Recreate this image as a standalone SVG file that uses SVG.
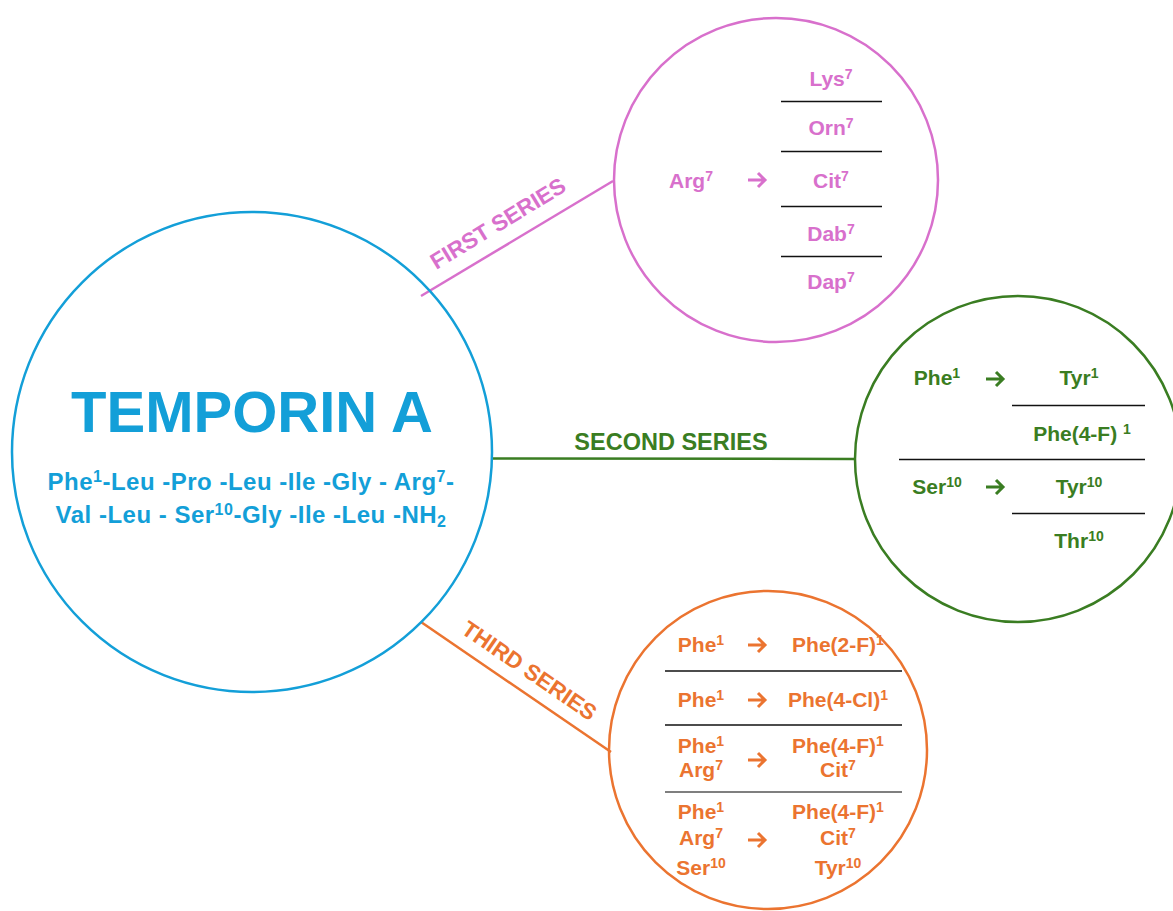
<svg xmlns="http://www.w3.org/2000/svg" width="1173" height="911" viewBox="0 0 1173 911">
<style>
text{font-family:"Liberation Sans",Arial,sans-serif;font-weight:bold;}
.b{fill:#139FD8;} .p{fill:#D870CC;} .g{fill:#3A7D22;} .o{fill:#EB7430;}
.t{font-size:21px;text-anchor:middle;}
.s{font-size:14px;}
.sep{stroke:#111;stroke-width:1.3;}
.arr{fill:none;stroke-width:3;stroke-linecap:butt;}
</style>
<rect width="1173" height="911" fill="#fff"/>
<g id="connectors">
<line x1="421" y1="296" x2="613" y2="181" stroke="#D870CC" stroke-width="2.5"/>
<line x1="493" y1="458.5" x2="856" y2="459" stroke="#3A7D22" stroke-width="2.5"/>
<line x1="421" y1="622" x2="611" y2="752" stroke="#EB7430" stroke-width="2.5"/>
<text class="p" font-size="22.5" text-anchor="middle" transform="translate(502,230) rotate(-31.3)">FIRST SERIES</text>
<text class="g" font-size="23.5" text-anchor="middle" x="671" y="450">SECOND SERIES</text>
<text class="o" font-size="22.5" text-anchor="middle" transform="translate(525,677) rotate(34.5)">THIRD SERIES</text>
</g>
<g id="temporin">
<circle cx="252" cy="452" r="240" fill="none" stroke="#139FD8" stroke-width="2.5"/>
<text class="b" x="252" y="432" font-size="58" text-anchor="middle">TEMPORIN A</text>
<text class="b" x="251" y="490" font-size="24" letter-spacing="0.5" text-anchor="middle">Phe<tspan dy="-8" font-size="16">1</tspan><tspan dy="8">-Leu -Pro -Leu -Ile -Gly - Arg</tspan><tspan dy="-8" font-size="16">7</tspan><tspan dy="8">-</tspan></text>
<text class="b" x="251" y="523" font-size="24" letter-spacing="0.5" text-anchor="middle">Val -Leu - Ser<tspan dy="-8" font-size="16">10</tspan><tspan dy="8">-Gly -Ile -Leu -NH</tspan><tspan dy="4" font-size="16">2</tspan></text>
</g>
<g id="first-series">
<circle cx="776" cy="180" r="162" fill="none" stroke="#D870CC" stroke-width="2.5"/>
<text class="p t" x="691" y="188">Arg<tspan dy="-7" class="s">7</tspan></text>
<path class="arr" stroke="#D870CC" d="M748 180H765M758 173L765 180L758 187"/>
<text class="p t" x="831" y="86">Lys<tspan dy="-7" class="s">7</tspan></text>
<text class="p t" x="831" y="135">Orn<tspan dy="-7" class="s">7</tspan></text>
<text class="p t" x="831" y="188">Cit<tspan dy="-7" class="s">7</tspan></text>
<text class="p t" x="831" y="241">Dab<tspan dy="-7" class="s">7</tspan></text>
<text class="p t" x="831" y="289">Dap<tspan dy="-7" class="s">7</tspan></text>
<line class="sep" x1="781" y1="101.5" x2="882" y2="101.5"/>
<line class="sep" x1="781" y1="151.5" x2="882" y2="151.5"/>
<line class="sep" x1="781" y1="206.5" x2="882" y2="206.5"/>
<line class="sep" x1="781" y1="256.5" x2="882" y2="256.5"/>
</g>
<g id="second-series">
<circle cx="1018" cy="459" r="163" fill="none" stroke="#3A7D22" stroke-width="2.5"/>
<text class="g t" x="937" y="385">Phe<tspan dy="-7" class="s">1</tspan></text>
<path class="arr" stroke="#3A7D22" d="M986 379H1003M996 372L1003 379L996 386"/>
<text class="g t" x="1079" y="385">Tyr<tspan dy="-7" class="s">1</tspan></text>
<line class="sep" x1="1012" y1="405.5" x2="1145" y2="405.5"/>
<text class="g t" x="1082" y="441">Phe(4-F) <tspan dy="-7" class="s">1</tspan></text>
<line class="sep" x1="899" y1="459.5" x2="1145" y2="459.5"/>
<text class="g t" x="937" y="494">Ser<tspan dy="-7" class="s">10</tspan></text>
<path class="arr" stroke="#3A7D22" d="M986 487H1003M996 480L1003 487L996 494"/>
<text class="g t" x="1079" y="494">Tyr<tspan dy="-7" class="s">10</tspan></text>
<line class="sep" x1="1012" y1="513.5" x2="1145" y2="513.5"/>
<text class="g t" x="1079" y="548">Thr<tspan dy="-7" class="s">10</tspan></text>
</g>
<g id="third-series">
<circle cx="768" cy="750" r="159" fill="none" stroke="#EB7430" stroke-width="2.5"/>
<text class="o t" x="701" y="652">Phe<tspan dy="-7" class="s">1</tspan></text>
<path class="arr" stroke="#EB7430" d="M748 645H765M758 638L765 645L758 652"/>
<text class="o t" x="838" y="652">Phe(2-F)<tspan dy="-7" class="s">1</tspan></text>
<line class="sep" x1="665" y1="671" x2="902" y2="671"/>
<text class="o t" x="701" y="707">Phe<tspan dy="-7" class="s">1</tspan></text>
<path class="arr" stroke="#EB7430" d="M748 700H765M758 693L765 700L758 707"/>
<text class="o t" x="838" y="707">Phe(4-Cl)<tspan dy="-7" class="s">1</tspan></text>
<line class="sep" x1="665" y1="725" x2="902" y2="725"/>
<text class="o t" x="701" y="753">Phe<tspan dy="-7" class="s">1</tspan></text>
<text class="o t" x="701" y="777">Arg<tspan dy="-7" class="s">7</tspan></text>
<path class="arr" stroke="#EB7430" d="M748 760H765M758 753L765 760L758 767"/>
<text class="o t" x="838" y="753">Phe(4-F)<tspan dy="-7" class="s">1</tspan></text>
<text class="o t" x="838" y="777">Cit<tspan dy="-7" class="s">7</tspan></text>
<line x1="665" y1="792" x2="902" y2="792" stroke="#555" stroke-width="1.6"/>
<text class="o t" x="701" y="819">Phe<tspan dy="-7" class="s">1</tspan></text>
<text class="o t" x="701" y="845">Arg<tspan dy="-7" class="s">7</tspan></text>
<text class="o t" x="701" y="875">Ser<tspan dy="-7" class="s">10</tspan></text>
<path class="arr" stroke="#EB7430" d="M748 840H765M758 833L765 840L758 847"/>
<text class="o t" x="838" y="819">Phe(4-F)<tspan dy="-7" class="s">1</tspan></text>
<text class="o t" x="838" y="845">Cit<tspan dy="-7" class="s">7</tspan></text>
<text class="o t" x="838" y="875">Tyr<tspan dy="-7" class="s">10</tspan></text>
</g>
</svg>
